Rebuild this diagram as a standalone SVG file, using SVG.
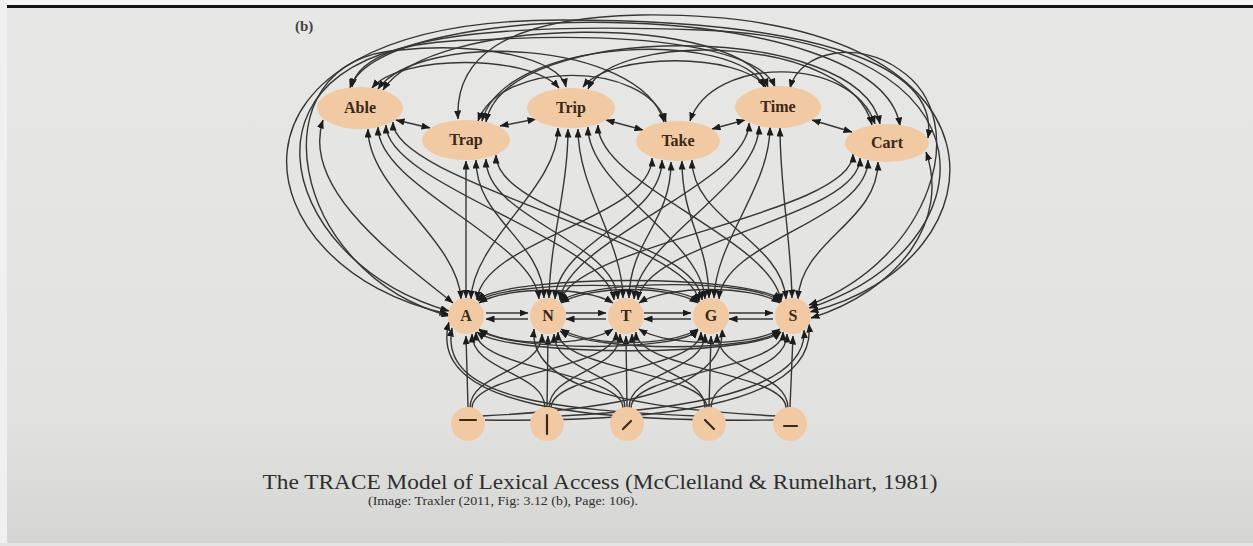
<svg xmlns="http://www.w3.org/2000/svg" width="1253" height="546" viewBox="0 0 1253 546">
<style>
.e{fill:none;stroke:#363636;stroke-width:1.4;marker-end:url(#ah)}
.b{fill:none;stroke:#363636;stroke-width:1.4;marker-start:url(#ah);marker-end:url(#ah)}
.node{fill:#f1c9a3}
.lbl{font-family:"Liberation Serif",serif;font-weight:bold;font-size:16px;fill:#3a2818;text-anchor:middle}
.glyph{stroke:#3a2818;stroke-width:2.2;stroke-linecap:round;fill:none}
.cap{font-family:"Liberation Serif",serif;fill:#2e2e2e;text-anchor:middle}
</style>
<defs>
<marker id="ah" viewBox="0 0 9 7" refX="8.5" refY="3.5" markerWidth="9" markerHeight="7" markerUnits="userSpaceOnUse" orient="auto-start-reverse">
<path d="M0,0 L9,3.5 L0,7 z" fill="#1c1c1c"/>
</marker>
<linearGradient id="bg" x1="0" y1="0" x2="0" y2="1">
<stop offset="0" stop-color="#e7e7e5"/>
<stop offset="0.75" stop-color="#e2e2e0"/>
<stop offset="1" stop-color="#d5d5d3"/>
</linearGradient>
</defs>
<rect x="0" y="0" width="1253" height="546" fill="url(#bg)"/>
<rect x="0" y="0" width="1253" height="5" fill="#f6f6f6"/>
<rect x="0" y="0" width="7" height="546" fill="#f0f0f0"/>
<rect x="7" y="5" width="1246" height="3" fill="#151515"/>
<rect x="0" y="543" width="1253" height="3" fill="#e4e4e4"/>
<text x="295" y="31" font-family="Liberation Serif,serif" font-weight="bold" font-size="15" fill="#444">(b)</text>
<g id="connectors">
<path class="e" d="M468 407 L466 336"/>
<path class="e" d="M547 407 L548 336"/>
<path class="e" d="M627 407 L626 336"/>
<path class="e" d="M709 407 L711 336"/>
<path class="e" d="M790 407 L793 336"/>
<path class="e" d="M470 408 C470 372 542 372 542 334"/>
<path class="e" d="M472 408 C472 372 616 370 616 332"/>
<path class="e" d="M545 408 C545 372 472 372 472 334"/>
<path class="e" d="M549 408 C549 372 620 372 620 334"/>
<path class="e" d="M551 408 C551 372 701 370 701 332"/>
<path class="e" d="M623 408 C623 372 476 370 476 332"/>
<path class="e" d="M625 408 C625 372 554 372 554 334"/>
<path class="e" d="M629 408 C629 372 705 372 705 334"/>
<path class="e" d="M631 408 C631 372 783 370 783 332"/>
<path class="e" d="M707 408 C707 372 558 370 558 332"/>
<path class="e" d="M705 408 C705 372 632 372 632 334"/>
<path class="e" d="M711 408 C711 372 787 372 787 334"/>
<path class="e" d="M786 408 C786 372 636 370 636 332"/>
<path class="e" d="M788 408 C788 372 717 372 717 334"/>
<path class="e" d="M697 416 C560 410 438 400 452 328"/>
<path class="e" d="M775 420 C600 422 425 410 449 322"/>
<path class="e" d="M778 416 C650 410 528 392 534 329"/>
<path class="e" d="M482 416 C600 410 726 395 722 329"/>
<path class="e" d="M485 420 C640 422 818 410 809 324"/>
<path class="e" d="M560 416 C680 410 808 392 804 330"/>
<path class="e" d="M486 313 L528 313"/>
<path class="e" d="M528 319 L486 319"/>
<path class="e" d="M566 313 L606 313"/>
<path class="e" d="M606 319 L566 319"/>
<path class="e" d="M644 313 L691 313"/>
<path class="e" d="M691 319 L644 319"/>
<path class="e" d="M729 313 L773 313"/>
<path class="e" d="M773 319 L729 319"/>
<path class="b" d="M479 303 C506 286 586 286 613 303"/>
<path class="b" d="M478 301 C510 280 680 280 699 302"/>
<path class="b" d="M477 300 C510 274 750 274 781 300"/>
<path class="b" d="M561 303 C590 285 670 285 698 303"/>
<path class="b" d="M560 301 C595 279 755 279 781 302"/>
<path class="b" d="M639 303 C668 285 752 285 780 303"/>
<path class="b" d="M479 329 C506 347 586 347 613 329"/>
<path class="b" d="M479 330 C510 352 680 352 698 330"/>
<path class="b" d="M477 332 C510 357 750 357 781 332"/>
<path class="b" d="M561 329 C590 347 670 347 698 329"/>
<path class="b" d="M560 331 C595 352 755 352 780 331"/>
<path class="b" d="M639 329 C668 347 752 347 780 329"/>
<path class="b" d="M453 303 C400 260 300 190 323 120"/>
<path class="b" d="M461 299 C458 240 368 189 368 129"/>
<path class="b" d="M466 298 L466 161"/>
<path class="b" d="M471 299 C473 240 558 188 558 128"/>
<path class="b" d="M477 300 C482 240 652 218 652 158"/>
<path class="b" d="M449 311 C270 260 220 40 480 40 C650 30 760 50 775 87"/>
<path class="b" d="M448 314 C240 270 190 20 560 20 C800 20 940 60 928 138"/>
<path class="b" d="M450 316 C290 275 250 60 400 50 C480 42 560 58 566 87"/>
<path class="b" d="M539 299 C534 240 378 187 378 127"/>
<path class="b" d="M544 298 C542 240 476 220 476 160"/>
<path class="b" d="M549 298 C550 240 568 189 568 129"/>
<path class="b" d="M555 299 C558 240 662 220 662 160"/>
<path class="b" d="M560 300 C566 240 749 183 749 123"/>
<path class="b" d="M561 302 C568 245 853 214 853 154"/>
<path class="b" d="M614 300 C608 240 386 185 386 125"/>
<path class="b" d="M618 299 C614 240 486 219 486 159"/>
<path class="b" d="M623 298 C622 240 578 189 578 129"/>
<path class="b" d="M629 298 C630 240 671 222 671 162"/>
<path class="b" d="M634 299 C638 240 759 186 759 126"/>
<path class="b" d="M638 300 C644 240 860 218 860 158"/>
<path class="b" d="M699 302 C693 240 393 182 393 122"/>
<path class="b" d="M702 300 C697 240 496 215 496 155"/>
<path class="b" d="M705 299 C702 240 588 187 588 127"/>
<path class="b" d="M709 298 C708 240 682 221 682 161"/>
<path class="b" d="M714 298 C716 240 770 187 770 127"/>
<path class="b" d="M719 299 C723 240 868 220 868 160"/>
<path class="b" d="M809 308 C990 250 1010 40 700 30 C480 22 360 40 352 87"/>
<path class="b" d="M810 312 C1010 262 1030 10 640 15 C500 18 455 60 458 119"/>
<path class="b" d="M781 302 C775 240 598 185 598 125"/>
<path class="b" d="M786 299 C782 240 692 220 692 160"/>
<path class="b" d="M792 298 C791 240 780 188 780 128"/>
<path class="b" d="M798 299 C801 240 878 222 878 162"/>
<path class="b" d="M811 318 C900 290 950 220 926 152"/>
<path class="b" d="M809 305 C930 260 975 120 900 70 C860 40 800 50 790 88"/>
<path class="b" d="M396 120 L430 128"/>
<path class="b" d="M500 126 L536 119"/>
<path class="b" d="M606 120 L643 130"/>
<path class="b" d="M712 129 L745 120"/>
<path class="b" d="M812 120 L852 132"/>
<path class="b" d="M372 88 C400 54 530 54 559 88"/>
<path class="b" d="M478 121 C500 60 645 60 666 122"/>
<path class="b" d="M583 87 C610 52 740 52 766 87"/>
<path class="b" d="M690 121 C712 55 852 55 875 124"/>
<path class="b" d="M378 89 C420 30 640 40 664 122"/>
<path class="b" d="M482 121 C505 35 740 30 764 87"/>
<path class="b" d="M588 89 C615 30 850 35 872 125"/>
<path class="b" d="M383 90 C430 15 740 12 768 87"/>
<path class="b" d="M486 122 C505 20 860 20 880 124"/>
<path class="b" d="M350 88 C380 -5 880 -5 900 126"/>
</g>
<g id="word-able"><ellipse class="node" cx="360" cy="108" rx="43" ry="21"/><text class="lbl" x="360" y="113">Able</text></g>
<g id="word-trap"><ellipse class="node" cx="466" cy="140" rx="44" ry="20"/><text class="lbl" x="466" y="145">Trap</text></g>
<g id="word-trip"><ellipse class="node" cx="571" cy="108" rx="44" ry="20"/><text class="lbl" x="571" y="113">Trip</text></g>
<g id="word-take"><ellipse class="node" cx="678" cy="141" rx="42" ry="20"/><text class="lbl" x="678" y="146">Take</text></g>
<g id="word-time"><ellipse class="node" cx="778" cy="107" rx="43" ry="21"/><text class="lbl" x="778" y="112">Time</text></g>
<g id="word-cart"><ellipse class="node" cx="887" cy="143" rx="42" ry="19"/><text class="lbl" x="887" y="148">Cart</text></g>
<g id="letter-a"><circle class="node" cx="466" cy="316" r="18"/><text class="lbl" x="466" y="321">A</text></g>
<g id="letter-n"><circle class="node" cx="548" cy="316" r="18"/><text class="lbl" x="548" y="321">N</text></g>
<g id="letter-t"><circle class="node" cx="626" cy="316" r="18"/><text class="lbl" x="626" y="321">T</text></g>
<g id="letter-g"><circle class="node" cx="711" cy="316" r="18"/><text class="lbl" x="711" y="321">G</text></g>
<g id="letter-s"><circle class="node" cx="793" cy="316" r="18"/><text class="lbl" x="793" y="321">S</text></g>
<g id="feature-1"><circle class="node" cx="468" cy="424" r="17"/><line class="glyph" x1="460" y1="420" x2="476" y2="420"/></g>
<g id="feature-2"><circle class="node" cx="547" cy="424" r="17"/><line class="glyph" x1="547" y1="415" x2="547" y2="434"/></g>
<g id="feature-3"><circle class="node" cx="627" cy="424" r="17"/><line class="glyph" x1="623" y1="429" x2="631" y2="421"/></g>
<g id="feature-4"><circle class="node" cx="709" cy="424" r="17"/><line class="glyph" x1="705" y1="420" x2="714" y2="429"/></g>
<g id="feature-5"><circle class="node" cx="790" cy="424" r="17"/><line class="glyph" x1="784" y1="426" x2="797" y2="426"/></g>
<text class="cap" x="600" y="489" font-size="22" textLength="675" lengthAdjust="spacingAndGlyphs">The TRACE Model of Lexical Access (McClelland &amp; Rumelhart, 1981)</text>
<text class="cap" x="503" y="505" font-size="13" textLength="270" lengthAdjust="spacingAndGlyphs">(Image: Traxler (2011, Fig: 3.12 (b), Page: 106).</text>
</svg>
